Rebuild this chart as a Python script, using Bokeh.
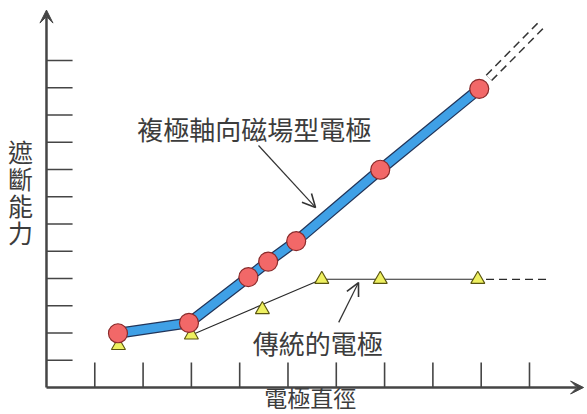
from bokeh.plotting import figure
from bokeh.models import Range1d, Arrow, VeeHead, OpenHead, ColumnDataSource
from bokeh.core.properties import value
from bokeh.embed import file_html
from bokeh.resources import INLINE

# ---- data ----
mag_x = [1.48, 2.95, 4.18, 4.59, 5.17, 6.91, 8.96]
mag_y = [1.99, 2.37, 4.05, 4.62, 5.37, 7.99, 10.96]
mag_ext_x = [9.16, 10.23]
mag_ext_y = [11.36, 13.28]

trad_x = [1.49, 3.00, 4.47, 5.70, 6.91, 8.93]
trad_y = [1.54, 1.93, 2.86, 3.97, 3.97, 3.97]
trad_fit_idx = [1, 3, 4, 5]
trad_ext_x = [9.10, 10.43]
trad_ext_y = [3.97, 3.97]

x_ticks = [1, 2, 3, 4, 5, 6, 7, 8, 9, 10]
y_ticks = [1, 2, 3, 4, 5, 6, 7, 8, 9, 10, 11, 12]
x_axis_end = 11.12
y_axis_end = 13.85

label_text = ["複極軸向磁場型電極", "傳統的電極", "電極直徑"]
label_x = [1.88, 4.27, 4.51]
label_y = [9.51, 1.66, -0.35]
ylabel_text = "遮\n斷\n能\n力"
ylabel_x = -0.54
ylabel_y = 7.19

callout_x0 = [4.39, 6.05]
callout_y0 = [8.88, 2.39]
callout_x1 = [5.57, 6.46]
callout_y1 = [6.61, 3.85]

# ---- figure ----
p = figure(width=587, height=414, output_backend="svg", toolbar_location=None,
           x_range=Range1d(-0.952, 11.201), y_range=Range1d(-0.991, 14.202),
           x_axis_type=None, y_axis_type=None, min_border=0)
p.outline_line_color = None
p.grid.visible = False
p.background_fill_color = "white"
p.border_fill_color = "white"

axis_col = "#454545"
font = value("Noto Sans CJK TC")
txt_col = "#3c3c3c"

# axes with arrows
p.add_layout(Arrow(end=VeeHead(size=13, fill_color=axis_col, line_color=axis_col),
                   x_start=0, y_start=0, x_end=0, y_end=y_axis_end,
                   line_color=axis_col, line_width=2.5))
p.add_layout(Arrow(end=VeeHead(size=13, fill_color=axis_col, line_color=axis_col),
                   x_start=0, y_start=0, x_end=x_axis_end, y_end=0,
                   line_color=axis_col, line_width=2.5))

# tick marks (inside)
p.segment(x0=[0] * len(y_ticks), y0=y_ticks, x1=[0.54] * len(y_ticks), y1=y_ticks,
          line_color=axis_col, line_width=1.6)
p.segment(x0=x_ticks, y0=[0] * len(x_ticks), x1=x_ticks, y1=[0.92] * len(x_ticks),
          line_color=axis_col, line_width=1.6)

# traditional electrode: thin line + dashed extension
fx = [trad_x[i] for i in trad_fit_idx]
fy = [trad_y[i] for i in trad_fit_idx]
p.line(fx, fy, line_color="#2a2a2a", line_width=1.1)
p.line(trad_ext_x, trad_ext_y, line_color="#2a2a2a", line_width=1.2, line_dash="8 5")

# magnetic electrode: thick blue band with outline
p.line(mag_x, mag_y, line_color="#22355a", line_width=11, line_join="round")
p.line(mag_x, mag_y, line_color="#3fa0e6", line_width=8.5, line_join="round")
# dashed double-line extension
p.line(mag_ext_x, mag_ext_y, line_color="#333333", line_width=9, line_dash="8 5")
p.line(mag_ext_x, mag_ext_y, line_color="white", line_width=6)

# markers
p.scatter(trad_x, trad_y, marker="triangle", size=14,
          fill_color="#eef060", line_color="#5a5510", line_width=1.1)
p.scatter(mag_x, mag_y, marker="circle", size=19,
          fill_color="#f26868", line_color="#8a2a2a", line_width=1.2)

# callout arrows
src = ColumnDataSource(dict(x0=callout_x0, y0=callout_y0, x1=callout_x1, y1=callout_y1))
p.add_layout(Arrow(end=OpenHead(size=13, line_color="#333333", line_width=1.6),
                   source=src, x_start="x0", y_start="y0", x_end="x1", y_end="y1",
                   line_color="#333333", line_width=1.2))

# labels
p.text(x=label_x[:2], y=label_y[:2], text=label_text[:2], text_font=font,
       text_font_size="26px", text_color=txt_col, text_baseline="middle",
       text_align="left")
p.text(x=label_x[2:], y=label_y[2:], text=label_text[2:], text_font=font,
       text_font_size="23px", text_color=txt_col, text_baseline="middle",
       text_align="left")
p.text(x=[ylabel_x], y=[ylabel_y], text=[ylabel_text], text_font=font,
       text_font_size="25px", text_color=txt_col, text_baseline="middle",
       text_align="center", text_line_height=0.75)

open("out.html", "w").write(file_html(p, INLINE))
